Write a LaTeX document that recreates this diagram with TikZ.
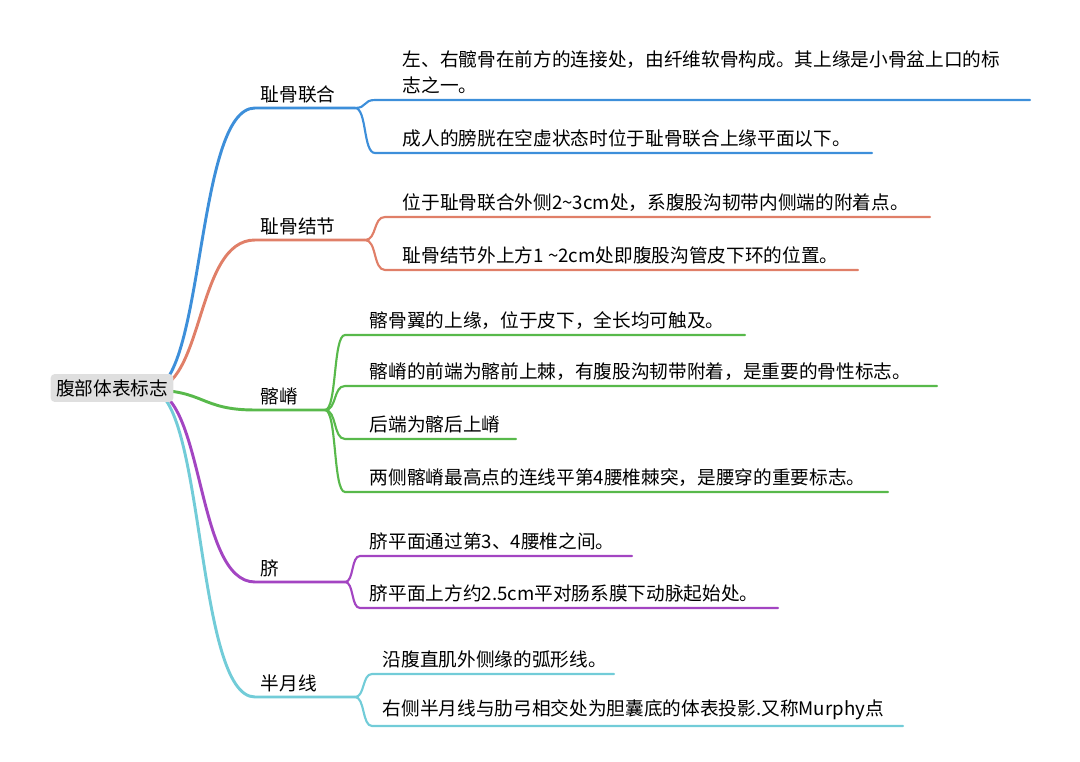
\documentclass[tikz,border=0pt]{standalone}
\usepackage{fontspec}
\setmainfont{Noto Sans CJK SC}
\usetikzlibrary{positioning}
\definecolor{cBlue}{HTML}{3D8FDA}
\definecolor{cSalmon}{HTML}{E07F68}
\definecolor{cGreen}{HTML}{58B94B}
\definecolor{cPurple}{HTML}{A345C2}
\definecolor{cCyan}{HTML}{72CCD8}
\tikzset{
  root/.style={rectangle, rounded corners=3pt, fill=gray!25, inner sep=4pt, font=\fontsize{14}{17}\selectfont},
  branch/.style={anchor=south west, inner sep=2pt, font=\fontsize{14}{17}\selectfont},
  leaf/.style={anchor=south west, inner sep=2pt, align=left, font=\fontsize{14}{20}\selectfont},
  main/.style={line width=2.2pt, line cap=round},
  sub/.style={line width=1.6pt, line cap=round}
}
\begin{document}
\begin{tikzpicture}[x=0.75pt, y=-0.75pt]
  \useasboundingbox (0,0) rectangle (1080,762);
  \coordinate (r) at (150,390);

  % 耻骨联合
  \coordinate (b1s) at (255,108); \coordinate (b1e) at (355,108);
  \node (b1) [branch] at (258,106) {耻骨联合};
  \draw [main, cBlue] (r) .. controls (205,390) and (195,108) .. (b1s) -- (b1e);
  \coordinate (l11) at (375,100); \coordinate (l11e) at (1030,100);
  \coordinate (l12) at (375,153); \coordinate (l12e) at (872,153);
  \node (t11) [leaf] at (400,97) {左、右髋骨在前方的连接处，由纤维软骨构成。其上缘是小骨盆上口的标\\志之一。};
  \node (t12) [leaf] at (400,150) {成人的膀胱在空虚状态时位于耻骨联合上缘平面以下。};
  \draw [sub, cBlue] (b1e) .. controls (367,108) and (363,100) .. (l11) -- (l11e);
  \draw [sub, cBlue] (b1e) .. controls (367,108) and (363,153) .. (l12) -- (l12e);

  % 耻骨结节
  \coordinate (b2s) at (255,240); \coordinate (b2e) at (365,240);
  \node (b2) [branch] at (258,238) {耻骨结节};
  \draw [main, cSalmon] (r) .. controls (205,390) and (195,240) .. (b2s) -- (b2e);
  \coordinate (l21) at (385,217); \coordinate (l21e) at (930,217);
  \coordinate (l22) at (385,270); \coordinate (l22e) at (858,270);
  \node (t21) [leaf] at (400,214) {位于耻骨联合外侧2\textasciitilde 3cm处，系腹股沟韧带内侧端的附着点。};
  \node (t22) [leaf] at (400,267) {耻骨结节外上方1 \textasciitilde 2cm处即腹股沟管皮下环的位置。};
  \draw [sub, cSalmon] (b2e) .. controls (377,240) and (373,217) .. (l21) -- (l21e);
  \draw [sub, cSalmon] (b2e) .. controls (377,240) and (373,270) .. (l22) -- (l22e);

  % 髂嵴
  \coordinate (b3s) at (255,410); \coordinate (b3e) at (325,410);
  \node (b3) [branch] at (258,408) {髂嵴};
  \draw [main, cGreen] (r) .. controls (205,390) and (200,410) .. (b3s) -- (b3e);
  \coordinate (l31) at (345,335); \coordinate (l31e) at (745,335);
  \coordinate (l32) at (345,386); \coordinate (l32e) at (937,386);
  \coordinate (l33) at (345,439); \coordinate (l33e) at (516,439);
  \coordinate (l34) at (345,492); \coordinate (l34e) at (888,492);
  \node (t31) [leaf] at (367,332) {髂骨翼的上缘，位于皮下，全长均可触及。};
  \node (t32) [leaf] at (367,383) {髂嵴的前端为髂前上棘，有腹股沟韧带附着，是重要的骨性标志。};
  \node (t33) [leaf] at (367,436) {后端为髂后上嵴};
  \node (t34) [leaf] at (367,489) {两侧髂嵴最高点的连线平第4腰椎棘突，是腰穿的重要标志。};
  \draw [sub, cGreen] (b3e) .. controls (337,410) and (333,335) .. (l31) -- (l31e);
  \draw [sub, cGreen] (b3e) .. controls (337,410) and (333,386) .. (l32) -- (l32e);
  \draw [sub, cGreen] (b3e) .. controls (337,410) and (333,439) .. (l33) -- (l33e);
  \draw [sub, cGreen] (b3e) .. controls (337,410) and (333,492) .. (l34) -- (l34e);

  % 脐
  \coordinate (b4s) at (255,582); \coordinate (b4e) at (345,582);
  \node (b4) [branch] at (258,580) {脐};
  \draw [main, cPurple] (r) .. controls (205,390) and (195,582) .. (b4s) -- (b4e);
  \coordinate (l41) at (360,556); \coordinate (l41e) at (632,556);
  \coordinate (l42) at (360,608); \coordinate (l42e) at (778,608);
  \node (t41) [leaf] at (367,553) {脐平面通过第3、4腰椎之间。};
  \node (t42) [leaf] at (367,605) {脐平面上方约2.5cm平对肠系膜下动脉起始处。};
  \draw [sub, cPurple] (b4e) .. controls (354,582) and (351,556) .. (l41) -- (l41e);
  \draw [sub, cPurple] (b4e) .. controls (354,582) and (351,608) .. (l42) -- (l42e);

  % 半月线
  \coordinate (b5s) at (255,697); \coordinate (b5e) at (355,697);
  \node (b5) [branch] at (258,695) {半月线};
  \draw [main, cCyan] (r) .. controls (205,390) and (195,697) .. (b5s) -- (b5e);
  \coordinate (l51) at (372,674); \coordinate (l51e) at (614,674);
  \coordinate (l52) at (372,726); \coordinate (l52e) at (903,726);
  \node (t51) [leaf] at (380,671) {沿腹直肌外侧缘的弧形线。};
  \node (t52) [leaf] at (380,723) {右侧半月线与肋弓相交处为胆囊底的体表投影.又称Murphy点};
  \draw [sub, cCyan] (b5e) .. controls (365,697) and (362,674) .. (l51) -- (l51e);
  \draw [sub, cCyan] (b5e) .. controls (365,697) and (362,726) .. (l52) -- (l52e);

  \node (root) [root] at (112,388) {腹部体表标志};
\end{tikzpicture}
\end{document}
